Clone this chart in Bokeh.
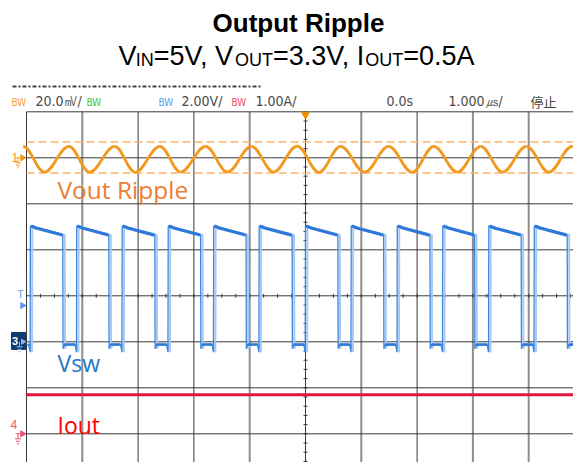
import numpy as np
from bokeh.plotting import figure
from bokeh.models import Range1d, Label
from bokeh.embed import file_html
from bokeh.resources import INLINE

# ---------------- values ----------------
# time in microseconds (1.000 us/div, trigger at t = 0)
# CH1 : Vout ripple, mV (20 mV/div, ground at +3 div) - crests and troughs
ripple_t = [-5.06, -4.68, -4.24, -3.87, -3.42, -3.05, -2.61, -2.24, -1.79, -1.40,
            -0.97, -0.57, -0.15, 0.24, 0.63, 1.06, 1.49, 1.91, 2.30, 2.72,
            3.14, 3.53, 3.96, 4.36, 4.78, 5.19]
ripple_mv = [5.0, -6.2, 5.0, -6.2, 5.0, -6.3, 5.0, -6.2, 5.0, -6.2,
             5.0, -6.2, 5.1, -6.3, 5.0, -6.2, 5.0, -6.3, 5.0, -6.2,
             5.0, -6.2, 5.0, -6.2, 5.0, -6.2]
cursor_mv = [6.9, -6.6]

# CH3 : switch node Vsw, V (2 V/div, ground at -1 div)
sw_rise_t = [-4.93, -4.10, -3.285, -2.46, -1.645, -0.83, 0.0, 0.82, 1.645, 2.46, 3.285, 4.10, 4.915]
sw_fall_t = [-4.35, -3.525, -2.70, -1.88, -1.065, -0.24, 0.58, 1.40, 2.23, 3.03, 3.865, 4.69]
sw_high_start = 5.04
sw_high_knee = 4.95
sw_high_end = 4.64
sw_low = -0.12
sw_rise_dip = -0.45
sw_fall_dip = -0.30

# CH4 : Iout, A (1 A/div, ground at -3 div)
iout_t = [-5.0, 5.0]
iout_a = [0.85, 0.85]

# ---------------- geometry (reference pixels) ----------------
X0, PX = 305.0, 55.8     # x of t = 0, pixels per division
Y0, PY = 295.3, 46.0     # y of centre line, pixels per division
W, H = 573, 462
x_start = (0 - X0) / PX
x_end = x_start + W / PX
y_end = (Y0 - 0) / PY
y_start = y_end - H / PY


def dx(px):
    return (px - X0) / PX


def dy(py):
    return (Y0 - py) / PY


p = figure(width=W, height=H, output_backend="svg", toolbar_location=None,
           x_range=Range1d(x_start, x_end), y_range=Range1d(y_start, y_end),
           x_axis_location=None, y_axis_location=None, min_border=0,
           outline_line_color=None, background_fill_color="white")
p.grid.visible = False

# channel scales
p.extra_y_ranges = {
    "ch1": Range1d((y_start - 3) * 20.0, (y_end - 3) * 20.0),
    "ch3": Range1d((y_start + 1) * 2.0, (y_end + 1) * 2.0),
    "ch4": Range1d((y_start + 3) * 1.0, (y_end + 3) * 1.0),
}

# ---------------- graticule ----------------
GRID = "#3a3a3a"
vx_dark = [-5, -3, -2, 0, 2, 5]
vx_gray = [-4, -1, 1, 3, 4]
p.segment(x0=vx_gray, y0=[-4] * len(vx_gray), x1=vx_gray, y1=[4] * len(vx_gray),
          line_color="#8e8e8e", line_width=2)
p.segment(x0=vx_dark, y0=[-4] * len(vx_dark), x1=vx_dark, y1=[4] * len(vx_dark),
          line_color=GRID, line_width=1)
hy = list(range(-4, 5))
p.segment(x0=[-5] * len(hy), y0=hy, x1=[5] * len(hy), y1=hy, line_color=GRID, line_width=1)
# small ticks on centre lines
tx = np.arange(-5, 5.001, 0.25)
p.segment(x0=tx, y0=-2 / PY, x1=tx, y1=2 / PY, line_color=GRID, line_width=1)
ty = np.arange(-4, 4.001, 0.2)
p.segment(x0=-2 / PX, y0=ty, x1=2 / PX, y1=ty, line_color=GRID, line_width=1)

# ---------------- CH1 ripple ----------------
ORANGE = "#f39a1e"
p.segment(x0=[-5, -5], y0=cursor_mv, x1=[5, 5], y1=cursor_mv, line_color="#f9b469",
          line_width=1.5, line_dash="8 4", y_range_name="ch1")
t = np.array(ripple_t)
v = np.array(ripple_mv)
x0, x1, y0, y1 = t[:-1], t[1:], v[:-1], v[1:]
a = 0.363 * (x1 - x0)
p.bezier(x0=x0, y0=y0, x1=x1, y1=y1, cx0=x0 + a, cy0=y0, cx1=x1 - a, cy1=y1,
         line_color=ORANGE, line_width=2.8, y_range_name="ch1")

# ---------------- CH3 Vsw ----------------
xs, ys = [-5.0], [sw_low]
px_hi, py_hi, px_lo, py_lo = [], [], [], []
prev_f = -5.0
for i, r in enumerate(sw_rise_t):
    px_lo.append([prev_f + 0.03, r - 0.03])
    py_lo.append([sw_low, sw_low])
    xs += [r - 0.03, r - 0.005, r, r + 0.1]
    ys += [sw_low, sw_rise_dip, sw_high_start, sw_high_knee]
    if i < len(sw_fall_t):
        f = sw_fall_t[i]
        xs += [f, f + 0.005, f + 0.03]
        ys += [sw_high_end, sw_fall_dip, sw_low]
        px_hi.append([r + 0.01, r + 0.1, f - 0.01])
        py_hi.append([sw_high_start, sw_high_knee, sw_high_end])
        prev_f = f
    else:
        px_hi.append([r + 0.01, r + 0.1])
        py_hi.append([sw_high_start, sw_high_knee])
xs_g = [x + 0.035 for x in xs]
p.line(xs_g, ys, line_color="#a9c8f2", line_width=2.0, y_range_name="ch3")
p.line(xs, ys, line_color="#3a86e0", line_width=1.3, y_range_name="ch3")
p.multi_line(px_hi, py_hi, line_color="#2e78d8", line_width=3.2, y_range_name="ch3")
p.multi_line(px_lo, py_lo, line_color="#2e78d8", line_width=2.6, y_range_name="ch3")

# ---------------- CH4 Iout ----------------
p.line(iout_t, iout_a, line_color="#e5143c", line_width=3, y_range_name="ch4")

# ---------------- markers ----------------
def ground(px, py, color):
    p.segment(x0=[dx(px), dx(px - 3), dx(px - 2), dx(px - 1)],
              y0=[dy(py), dy(py + 5), dy(py + 7.5), dy(py + 10)],
              x1=[dx(px), dx(px + 3), dx(px + 2), dx(px + 1)],
              y1=[dy(py + 5), dy(py + 5), dy(py + 7.5), dy(py + 10)],
              line_color=color, line_width=1)


def arrow(px, py, color, size=6):
    p.scatter([dx(px)], [dy(py)], marker="triangle", size=size, angle=-np.pi / 2,
              fill_color=color, line_color=color)


def lbl(text, px, base, size, color, font="Liberation Sans", style="normal", align="left"):
    # base = wanted baseline (reference pixels); renderer places text ~0.43 em lower
    p.add_layout(Label(x=dx(px), y=dy(base - 0.43 * size), text=text, text_font=font,
                       text_font_size=f"{size}px", text_color=color, text_font_style=style,
                       text_align=align, text_baseline="alphabetic"))


# CH1 marker
lbl("1", 11, 162, 12, ORANGE)
p.segment(x0=[dx(15)], y0=[dy(Y0 - 3 * PY)], x1=[dx(20)], y1=[dy(Y0 - 3 * PY)], line_color=ORANGE)
arrow(22, Y0 - 3 * PY, ORANGE)
ground(17.5, Y0 - 3 * PY, ORANGE)

# trigger level marker
lbl("T", 17, 298, 10, "#5b9be8")
arrow(22, 305, "#5b9be8")

# CH3 marker (boxed)
p.quad(left=[dx(11)], right=[dx(25)], top=[dy(332)], bottom=[dy(349)],
       fill_color="#0d3c70", line_color="#0d3c70")
lbl("3", 11.5, 345, 11, "white", style="bold")
arrow(22.5, Y0 + PY, "#8fb8ec", size=5)
ground(19, Y0 + PY, "#8fb8ec")

# CH4 marker
lbl("4", 10, 429, 12, "#f0506e")
p.segment(x0=[dx(15)], y0=[dy(Y0 + 3 * PY)], x1=[dx(20)], y1=[dy(Y0 + 3 * PY)], line_color="#f0506e")
arrow(22, Y0 + 3 * PY, "#f0506e")
ground(17.5, Y0 + 3 * PY, "#f0506e")

# trigger position marker at top
p.scatter([0], [dy(114)], marker="inverted_triangle", size=8, fill_color="#f08c00", line_color="#f08c00")

# ---------------- header (scope status bar) ----------------
p.segment(x0=[dx(12)], y0=[dy(86)], x1=[dx(262)], y1=[dy(86)], line_color="#444444",
          line_width=2, line_dash="4 2 2 2")
NARROW = "Liberation Sans Narrow, DejaVu Sans Condensed, Liberation Sans, sans-serif"
GR = "#4a4a4a"
lbl("BW", 11, 106, 10, "#f5a04a", NARROW)
lbl("20.0\u33b7/", 35, 107, 14, GR, NARROW)
lbl("BW", 86, 106, 10, "#3cc43c", NARROW)
lbl("BW", 158, 106, 10, "#5b9be8", NARROW)
lbl("2.00V/", 181, 107, 14, GR, NARROW)
lbl("BW", 231, 106, 10, "#f0506e", NARROW)
lbl("1.00A/", 255, 107, 14, GR, NARROW)
lbl("0.0s", 386, 107, 14, GR, NARROW)
lbl("1.000\u33b2/", 448, 107, 14, GR, NARROW)
lbl("停止", 530, 107, 13, "#444444", "Noto Sans CJK SC")

# ---------------- titles ----------------
lbl("Output Ripple", 298, 34, 26, "black", style="bold", align="center")
pieces = [("V", 27, 0.640), ("IN", 18, 1.000), ("=5V, V", 27, 3.010), ("OUT", 18, 2.111),
          ("=3.3V, I", 27, 3.420), ("OUT", 18, 2.111), ("=0.5A", 27, 2.641)]
total = sum(s * w for _, s, w in pieces)
cx = 296 - total / 2
for txt, s, w in pieces:
    lbl(txt, cx, 67, s, "black")
    cx += s * w

# ---------------- channel names ----------------
lbl("Vout Ripple", 57, 200, 24.5, "#ed7d31", "Open Sans")
lbl("Vsw", 57, 372, 23, "#1f77c8", "Open Sans")
lbl("Iout", 57, 434, 23, "#ff0000", "Open Sans")

open("out.html", "w").write(file_html(p, INLINE))
